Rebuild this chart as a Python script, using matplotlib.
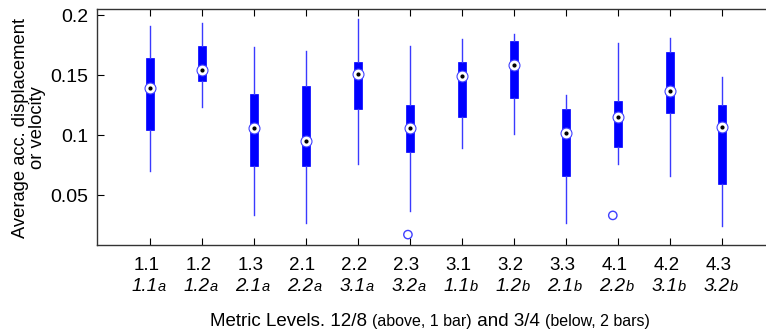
import matplotlib
matplotlib.use('Agg')
import matplotlib.pyplot as plt
import matplotlib.transforms as mtransforms
import numpy as np

plt.rcParams['font.family'] = ['Liberation Sans', 'DejaVu Sans']

# ---- data ----
top_labels = ['1.1', '1.2', '1.3', '2.1', '2.2', '2.3', '3.1', '3.2', '3.3', '4.1', '4.2', '4.3']
bottom_main = ['1.1', '1.2', '2.1', '2.2', '3.1', '3.2', '1.1', '1.2', '2.1', '2.2', '3.1', '3.2']
bottom_suffix = ['a'] * 6 + ['b'] * 6

whisker_hi = [0.191, 0.193, 0.173, 0.170, 0.197, 0.174, 0.180, 0.184, 0.133, 0.177, 0.181, 0.148]
q3 = [0.164, 0.174, 0.134, 0.141, 0.161, 0.125, 0.161, 0.178, 0.122, 0.128, 0.169, 0.125]
medians = [0.139, 0.154, 0.106, 0.095, 0.151, 0.106, 0.149, 0.158, 0.102, 0.115, 0.137, 0.107]
q1 = [0.104, 0.145, 0.074, 0.074, 0.122, 0.086, 0.115, 0.131, 0.066, 0.090, 0.118, 0.059]
whisker_lo = [0.070, 0.123, 0.033, 0.027, 0.076, 0.037, 0.089, 0.101, 0.027, 0.076, 0.066, 0.024]

outlier_box = [6, 10]          # 1-based box index
outlier_val = [0.017, 0.033]
outlier_jitter = [-0.04, -0.10]

yticks = [0.05, 0.1, 0.15, 0.2]
ytick_labels = ['0.05', '0.1', '0.15', '0.2']

xlabel_parts = [('Metric Levels. 12/8 ', 13.5), ('(above, 1 bar)', 11.5),
                (' and 3/4 ', 13.5), ('(below, 2 bars)', 11.5)]
ylabel_text = 'Average acc. displacement\nor velocity'

# ---- figure ----
W, H = 766, 332
fig = plt.figure(figsize=(W / 100, H / 100), dpi=100)
ax = fig.add_axes([97 / W, 1 - 245 / H, 1 - 97 / W, (245 - 9) / H])

positions = np.arange(1, len(medians) + 1)
stats = []
for i in range(len(medians)):
    stats.append(dict(med=medians[i], q1=q1[i], q3=q3[i],
                      whislo=whisker_lo[i], whishi=whisker_hi[i], fliers=[]))

ax.bxp(stats, positions=positions, widths=0.135, patch_artist=True,
       showcaps=False, showfliers=False,
       boxprops=dict(facecolor='#0000ff', edgecolor='#0000ff', linewidth=0.5),
       whiskerprops=dict(color='#3a3aff', linewidth=1.0),
       medianprops=dict(linewidth=0),
       manage_ticks=False, zorder=2)

ax.scatter(positions, medians, s=62, facecolor='white', edgecolor='#4040ff',
           linewidth=0.8, zorder=4)
ax.scatter(positions, medians, s=4, color='black', zorder=5)

ox = [outlier_box[k] + outlier_jitter[k] for k in range(len(outlier_box))]
ax.scatter(ox, outlier_val, s=36, facecolor='none', edgecolor='#4040ff',
           linewidth=1.0, zorder=4)

ax.set_xlim(1 - 53 / 52, 1 + (W - 150) / 52)
ax.set_ylim(0.2 - (245 - 15) / 1200, 0.2 + 6 / 1200)

ax.set_yticks(yticks)
ax.set_yticklabels(ytick_labels, fontsize=14)
ax.set_xticks(positions)
ax.set_xticklabels([''] * len(positions))
ax.tick_params(axis='y', direction='in', length=5, width=0.8, right=False, pad=6)
ax.tick_params(axis='x', direction='in', length=5, width=0.8, top=True, pad=2)
for s in ['left', 'top', 'bottom']:
    ax.spines[s].set_color('#333333')
    ax.spines[s].set_linewidth(1.0)
ax.spines['right'].set_visible(False)

fig.text(29 / W, 1 - 128 / H, ylabel_text, rotation=90, ha='center', va='center',
         multialignment='center', fontsize=13.2, linespacing=1.05)

# tick labels (two rows)
trans = mtransforms.blended_transform_factory(ax.transData, fig.transFigure)
fig.canvas.draw()
renderer = fig.canvas.get_renderer()
inv = fig.transFigure.inverted()
row1_y = 1 - 266 / H
row2_base = H - 291
for i, p in enumerate(positions):
    fig.text(p - 0.07, row1_y, top_labels[i], transform=trans, ha='center', va='center', fontsize=13.5)
    t1 = fig.text(0, 0, bottom_main[i], fontsize=13.5, style='italic', va='baseline', ha='left')
    t2 = fig.text(0, 0, bottom_suffix[i], fontsize=10.5, style='italic', va='baseline', ha='left')
    w1 = t1.get_window_extent(renderer).width
    w2 = t2.get_window_extent(renderer).width
    xc = trans.transform((p - 0.03, 0))[0]
    x0 = xc - (w1 + w2) / 2
    t1.set_position(inv.transform((x0, row2_base)))
    t2.set_position(inv.transform((x0 + w1, row2_base)))

# x label with mixed font sizes
pieces = []
widths = []
for txt, fs in xlabel_parts:
    t = fig.text(0, 0, txt, fontsize=fs, va='baseline', ha='left')
    pieces.append(t)
    widths.append(t.get_window_extent(renderer).width)
total = sum(widths)
cx = 430
base_y = H - 326
x = cx - total / 2
for t, w in zip(pieces, widths):
    t.set_position(inv.transform((x, base_y)))
    x += w

fig.savefig('out.png', dpi=100)
